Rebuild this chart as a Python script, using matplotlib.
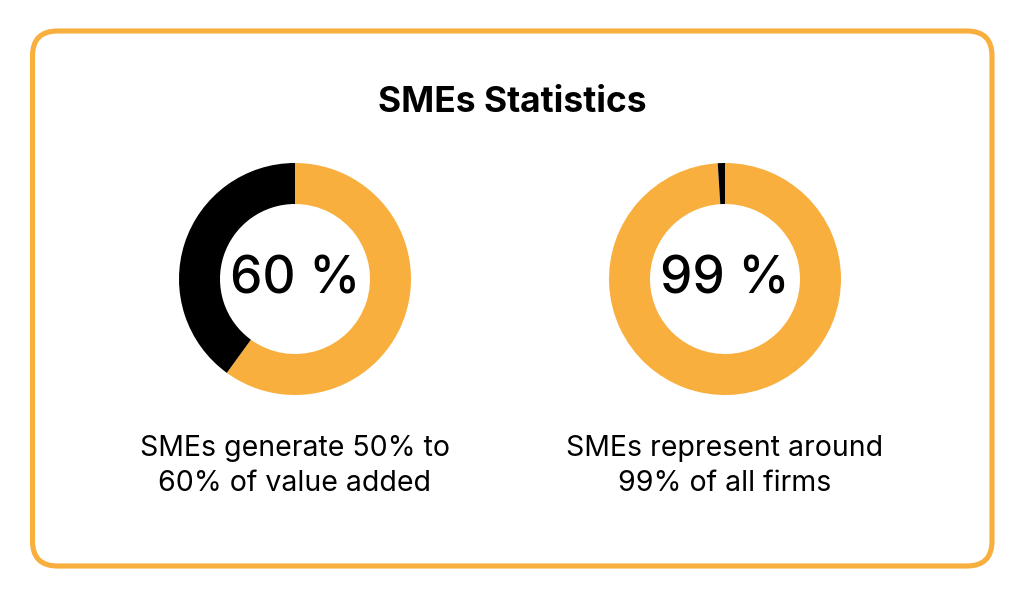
import matplotlib
matplotlib.use("Agg")
import matplotlib.pyplot as plt
from matplotlib.patches import FancyBboxPatch

plt.rcParams['font.family'] = ['Inter', 'DejaVu Sans']

title = "SMEs Statistics"
share_labels = ["60 %", "99 %"]
sme_share = [60, 99]
other_share = [40, 1]
captions = ["SMEs generate 50% to\n60% of value added",
            "SMEs represent around\n99% of all firms"]

ORANGE = "#F8AF3D"
BLACK = "#000000"

W, H = 1024, 597
fig = plt.figure(figsize=(W / 100, H / 100), dpi=100)
ax = fig.add_axes([0, 0, 1, 1])

centers_x = [295, 725]
cy = H - 279
r_out = 116
ring = 41

for cx, s, o, lab, cap in zip(centers_x, sme_share, other_share, share_labels, captions):
    ax.pie([s, o], colors=[ORANGE, BLACK], startangle=90, counterclock=False,
           center=(cx, cy), radius=r_out,
           wedgeprops=dict(width=ring, linewidth=0))
    ax.text(cx, cy - 1, lab, ha="center", va="center", fontsize=37,
            fontweight="medium", color="black")
    ax.text(cx, H - 466, cap, ha="center", va="center", fontsize=20.5,
            color="black", linespacing=1.36)

ax.text(W / 2, H - 102, title, ha="center", va="center", fontsize=25.5,
        fontweight="bold", color="black")

frame = FancyBboxPatch((32.5, H - 566), 959.5, 535, boxstyle="round,pad=0,rounding_size=25",
                       facecolor="none", edgecolor=ORANGE, linewidth=3.7)
ax.add_patch(frame)

ax.set_xlim(0, W)
ax.set_ylim(0, H)
ax.set_aspect("equal")
ax.axis("off")

fig.savefig("out.png", dpi=100, facecolor="white")
